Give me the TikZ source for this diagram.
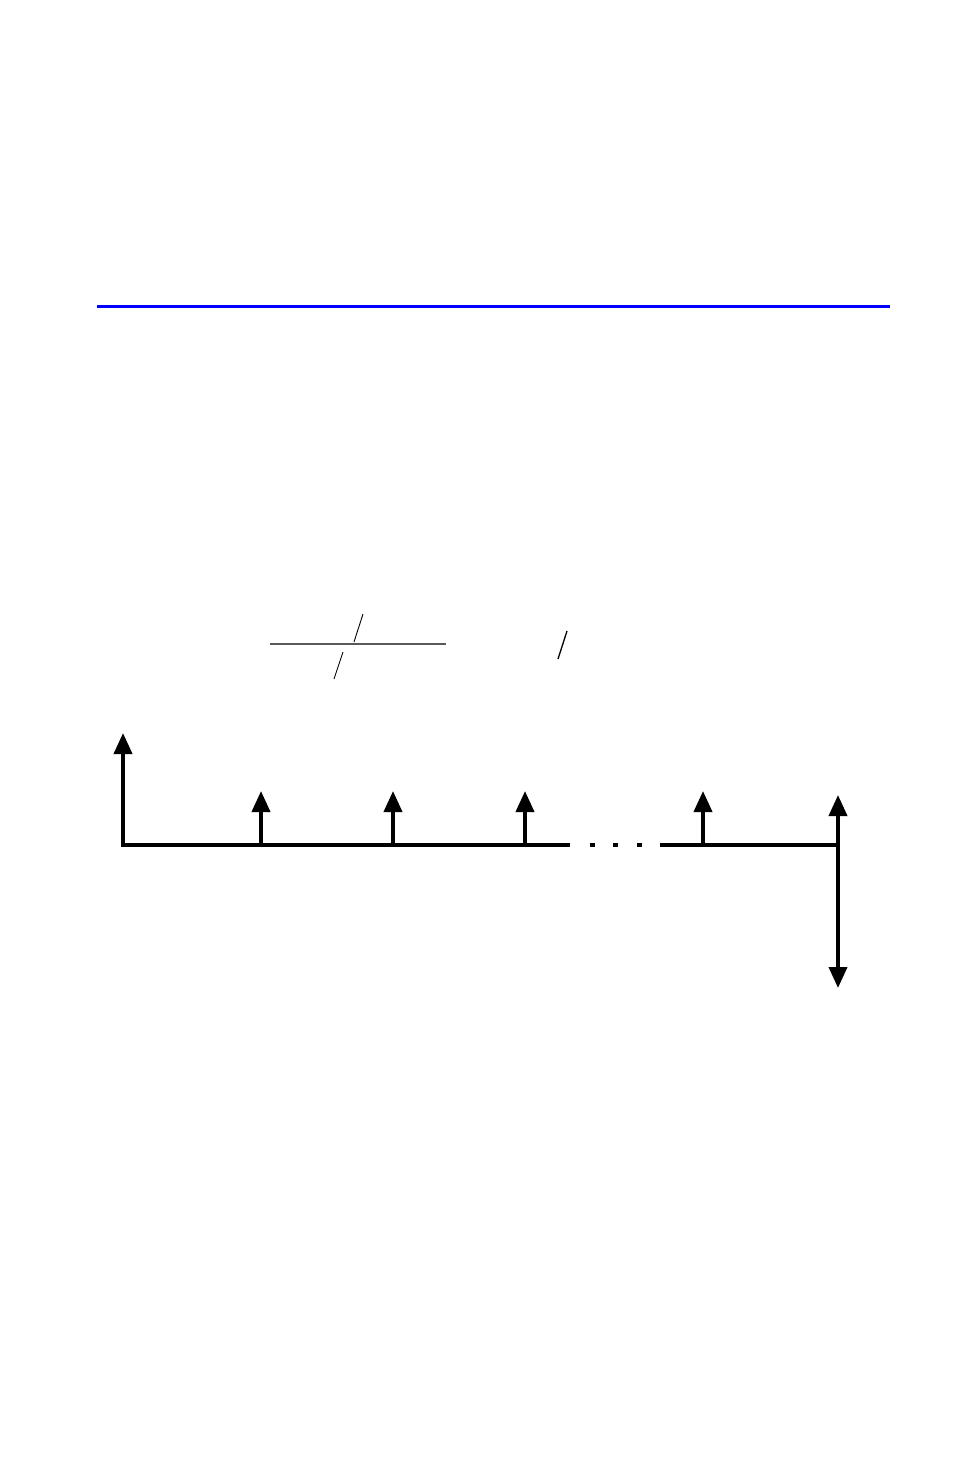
\documentclass[tikz,border=0pt]{standalone}
\usetikzlibrary{arrows.meta}
\begin{document}
\begin{tikzpicture}[x=1pt,y=-1pt,
  axis/.style={line width=4pt},
  flow/.style={line width=3.8pt,-{Triangle[length=21pt,width=18pt]}},
  both/.style={line width=3.8pt,{Triangle[length=21pt,width=18pt]}-{Triangle[length=21pt,width=18pt]}},
  slash/.style={line width=0.9pt},
  dotmark/.style={fill=black}]
\useasboundingbox (0,0) rectangle (954,1479);
% blue rule
\draw[blue,line width=3pt] (97,306) -- (890,306);
% fraction-like marks
\draw[black!65,line width=2.2pt] (270,644) -- (446,644);
\draw[slash] (363,614) -- (354,642);
\draw[slash] (343,652) -- (334,679);
\draw[line width=1.3pt] (567,631) -- (558,659);
% timeline
\coordinate (t0) at (121,845);
\coordinate (ta) at (570,845);
\coordinate (tb) at (660,845);
\coordinate (tn) at (840,845);
\draw[axis] (t0) -- (ta);
\draw[axis] (tb) -- (tn);
\foreach \x in {592,615,639} \fill[dotmark] (\x-2.5,843) rectangle (\x+2.5,847);
% arrows
\coordinate (a0) at (123,733);
\draw[flow] (123,847) -- (a0);
\foreach \x in {261,393,525,703}
  \draw[flow] (\x,845) -- (\x,791);
\draw[both] (838,795) -- (838,988);
\end{tikzpicture}
\end{document}
